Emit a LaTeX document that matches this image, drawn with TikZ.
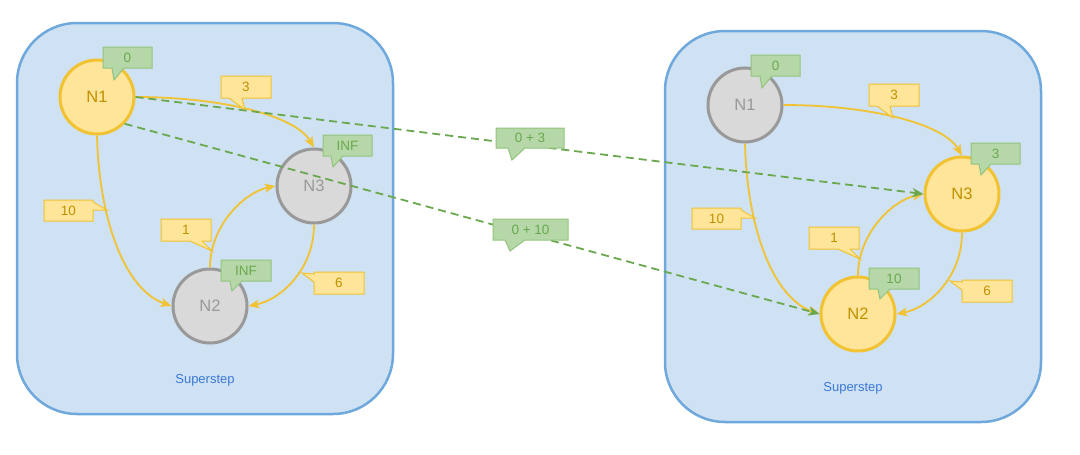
\documentclass[tikz,border=0pt]{standalone}
\usepackage{fontspec}
\setmainfont{Liberation Sans}
\usetikzlibrary{arrows.meta}
\definecolor{cfill}{HTML}{CFE2F3}
\definecolor{cline}{HTML}{6FA8DC}
\definecolor{yfill}{HTML}{FFE599}
\definecolor{yline}{HTML}{F1C232}
\definecolor{ytext}{HTML}{BF9000}
\definecolor{gfill}{HTML}{D9D9D9}
\definecolor{gline}{HTML}{999999}
\definecolor{bfill}{HTML}{B6D7A8}
\definecolor{bline}{HTML}{93C47D}
\definecolor{btext}{HTML}{6AA84F}
\definecolor{dline}{HTML}{6AA84F}
\definecolor{stext}{HTML}{3C78D8}
\tikzset{
 container/.style={draw=cline, fill=cfill, line width=2.5pt, rounded corners=60pt},
 ynode/.style={circle, minimum size=74pt, inner sep=0pt, line width=3pt, draw=yline, fill=yfill, text=ytext, font=\fontsize{16.5}{16.5}\selectfont},
 gnode/.style={ynode, draw=gline, fill=gfill, text=gline},
 yedge/.style={draw=yline, line width=1.8pt, -{Stealth[length=11pt,width=9pt,inset=3pt]}},
 dedge/.style={draw=dline, line width=1.8pt, dash pattern=on 8pt off 5pt, -{Stealth[length=11pt,width=9pt,inset=3pt]}},
 badge/.style={draw=bline, fill=bfill, line width=1pt},
 badgetext/.style={text=btext, font=\fontsize{13.5}{13.5}\selectfont, inner sep=0pt},
 ylabel/.style={draw=yline, fill=yfill, line width=1pt},
 ylabeltext/.style={text=ytext, font=\fontsize{13.5}{13.5}\selectfont, inner sep=0pt},
 supertext/.style={text=stext, font=\fontsize{13}{13}\selectfont}
}
% callout with pointer at bottom
\newcommand{\mkbot}[9]{\draw[#1] (#2,#3) -- (#4,#3) -- (#4,#5) -- (#7,#5) -- (#8,#9) -- (#6,#5) -- (#2,#5) -- cycle;}
% callout with pointer at right
\newcommand{\mkright}[9]{\draw[#1] (#2,#3) -- (#4,#3) -- (#4,#6) -- (#8,#9) -- (#4,#7) -- (#4,#5) -- (#2,#5) -- cycle;}
% callout with pointer at left
\newcommand{\mkleft}[9]{\draw[#1] (#2,#3) -- (#4,#3) -- (#4,#5) -- (#2,#5) -- (#2,#7) -- (#8,#9) -- (#2,#6) -- cycle;}
\newcommand{\drawpanel}[7]{%
 \draw[container] (17,23) rectangle (393,414);
 \node[#2] (#1a) at (97,97) {N1};
 \node[#3] (#1b) at (210,306) {N2};
 \node[#4] (#1c) at (314,186) {N3};
 \coordinate (#1p1) at (220,97);
 \coordinate (#1p2) at (295,115);
 \coordinate (#1p3) at (99,220);
 \coordinate (#1p4) at (125,290);
 \coordinate (#1p5) at (210,225);
 \coordinate (#1p6) at (245,192);
 \coordinate (#1p7) at (314,270);
 \coordinate (#1p8) at (280,300);
 \draw[yedge] (#1a.east) .. controls (#1p1) and (#1p2) .. (#1c.north);
 \draw[yedge] (#1a.south) .. controls (#1p3) and (#1p4) .. (#1b.west);
 \draw[yedge] (#1b.north) .. controls (#1p5) and (#1p6) .. (#1c.west);
 \draw[yedge] (#1c.south) .. controls (#1p7) and (#1p8) .. (#1b.east);
 \mkbot{ylabel}{221}{76}{271}{98}{229}{242}{245}{110}
 \node[ylabeltext] (#1l3) at (246,87) {3};
 \mkright{ylabel}{44}{200}{93}{221}{202}{210}{107}{210}
 \node[ylabeltext] (#1l10) at (68.5,210.5) {10};
 \mkbot{ylabel}{161}{219}{211}{241}{190}{202}{212}{251}
 \node[ylabeltext] (#1l1) at (186,230) {1};
 \mkleft{ylabel}{314}{272}{364}{294}{274}{282}{302}{273}
 \node[ylabeltext] (#1l6) at (339,283) {6};
 \mkbot{badge}{103}{47}{152}{68}{112}{124}{114}{80}
 \node[badgetext] (#1ba) at (127.5,57.5) {#5};
 \mkbot{badge}{221}{260}{271}{281}{230}{242}{232}{291}
 \node[badgetext] (#1bb) at (246,270.5) {#6};
 \mkbot{badge}{323}{135}{372}{156}{331}{343}{333}{167}
 \node[badgetext] (#1bc) at (347.5,145.5) {#7};
 \node[supertext] (#1s) at (205,380) {Superstep};
}
\begin{document}
\begin{tikzpicture}[x=1pt,y=-1pt]
\useasboundingbox (0,0) rectangle (1080,455);
\drawpanel{L}{ynode}{gnode}{gnode}{0}{INF}{INF}
\begin{scope}[shift={(648,8)}]
\drawpanel{R}{gnode}{ynode}{ynode}{0}{10}{3}
\end{scope}
\draw[dedge] (La.east) -- (Rc.west);
\draw[dedge] (La.-44) -- (Rb.west);
\mkbot{badge}{496}{128}{564}{148}{508}{525}{512}{160}
\node[badgetext] (m1) at (530,138) {0 + 3};
\mkbot{badge}{493}{219}{568}{240}{505}{525}{510}{251}
\node[badgetext] (m2) at (530.5,229.5) {0 + 10};
\end{tikzpicture}
\end{document}
